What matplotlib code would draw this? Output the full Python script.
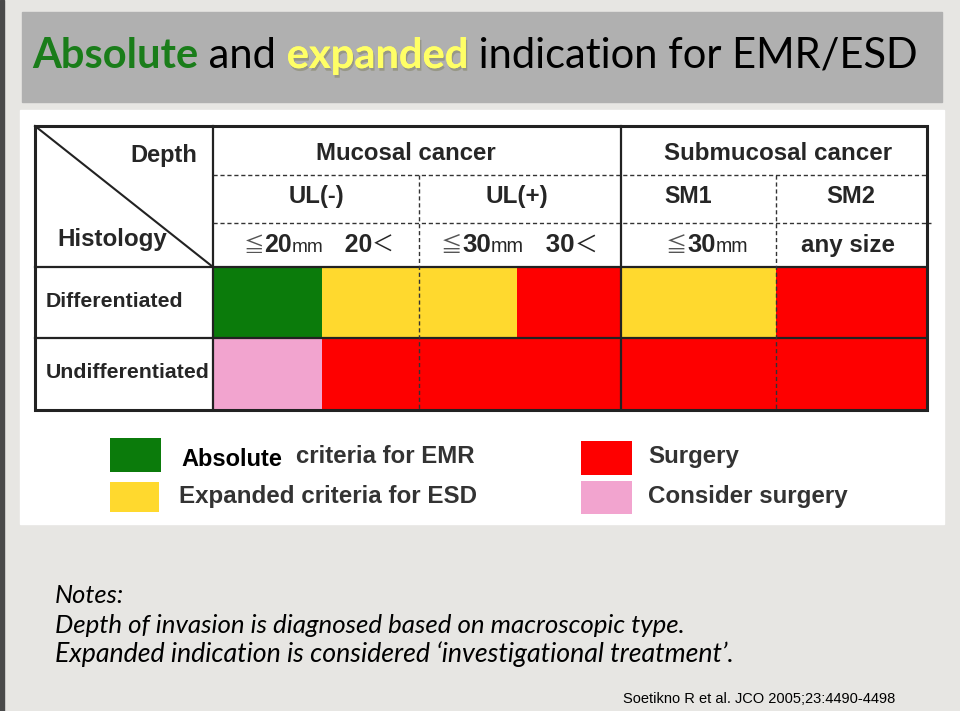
import matplotlib
matplotlib.use('Agg')
import matplotlib.pyplot as plt
import matplotlib.patheffects as pe
from matplotlib.patches import Rectangle

# ---- content -------------------------------------------------------------
depth_groups = ['Mucosal cancer', 'Submucosal cancer']
ulcer_groups = ['UL(-)', 'UL(+)', 'SM1', 'SM2']
histology = ['Differentiated', 'Undifferentiated']
# one entry per size column: ≦20, 20<, ≦30, 30<, SM1 ≦30, SM2 any size
criteria = [
    ['Absolute', 'Expanded', 'Expanded', 'Surgery', 'Expanded', 'Surgery'],
    ['Consider surgery', 'Surgery', 'Surgery', 'Surgery', 'Surgery', 'Surgery'],
]
legend_labels = ['Absolute', 'Expanded', 'Surgery', 'Consider surgery']
notes = ['Notes:',
         'Depth of invasion is diagnosed based on macroscopic type.',
         'Expanded indication is considered \u2018investigational treatment\u2019.']
citation = 'Soetikno R et al. JCO 2005;23:4490-4498'

colors = {'Absolute': '#0b7b0b', 'Expanded': '#ffd92e',
          'Surgery': '#fe0000', 'Consider surgery': '#f2a4cf'}

# ---- layout (pixel coords) ----------------------------------------------
col_edges = [213, 322, 419, 517, 621, 776, 927]
row_edges = [267, 338, 410]
tbl_left, tbl_top = 35, 126
INK = '#262626'
SANS = ['Liberation Sans', 'Noto Sans CJK JP', 'DejaVu Sans']
CJK = ['Noto Sans CJK JP', 'DejaVu Sans']

fig = plt.figure(figsize=(9.6, 7.11), dpi=100)
fig.patch.set_facecolor('#e7e6e3')
ax = fig.add_axes([0, 0, 1, 1])
ax.set_xlim(0, 960)
ax.set_ylim(711, 0)
ax.axis('off')
renderer = fig.canvas.get_renderer()


def run(pieces, x, y, ha='left', width=None):
    """Draw text pieces side by side on a baseline, optionally fit to width."""
    texts = [ax.text(0, y, s, va='baseline', **kw) for s, kw in pieces]

    def widths():
        return [t.get_window_extent(renderer).width for t in texts]

    w = widths()
    if width:
        k = width / sum(w)
        for t in texts:
            t.set_fontsize(t.get_fontsize() * k)
        w = widths()
    total = sum(w)
    x0 = {'left': x, 'center': x - total / 2, 'right': x - total}[ha]
    for t, wi in zip(texts, w):
        t.set_x(x0)
        x0 += wi
    return texts


def bold(size=17, color=INK):
    return dict(family=SANS, fontweight='bold', fontsize=size, color=color)


# left dark strip, title bar, white panel
ax.add_patch(Rectangle((0, 0), 4, 711, color='#4a4a4a', zorder=0))
ax.add_patch(Rectangle((22, 12), 920, 90, color='#b0b0b0', zorder=1))
ax.add_patch(Rectangle((20, 110), 924, 414, color='white', zorder=1))

# title
tfont = ['Lato', 'DejaVu Sans']
shadow = [pe.withSimplePatchShadow(offset=(1, -2), shadow_rgbFace='#808060', alpha=0.5), pe.Normal()]
run([('Absolute', dict(family=tfont, fontweight='bold', fontsize=28, color='#1a7d1a')),
     (' and ', dict(family=tfont, fontsize=28, color='black')),
     ('expanded', dict(family=tfont, fontweight='bold', fontsize=28, color='#ffff66',
                       path_effects=shadow)),
     (' indication for EMR/ESD', dict(family=tfont, fontsize=28, color='black'))],
    32, 68, width=886)

# colored cells
for r, row in enumerate(criteria):
    for c, cat in enumerate(row):
        ax.add_patch(Rectangle((col_edges[c], row_edges[r]),
                               col_edges[c + 1] - col_edges[c],
                               row_edges[r + 1] - row_edges[r],
                               color=colors[cat], lw=0, zorder=2))

# grid lines
ln = dict(color='#222222', zorder=3)
dash = dict(color='#333333', lw=1, ls=(0, (3, 2)), zorder=3)
ax.add_patch(Rectangle((tbl_left, tbl_top), col_edges[-1] - tbl_left,
                       row_edges[-1] - tbl_top, fill=False, ec='#222222', lw=2.2, zorder=4))
ax.plot([tbl_left, col_edges[0]], [tbl_top, row_edges[0]], lw=1.5, **ln)
for x in (col_edges[0], col_edges[4]):
    ax.plot([x, x], [tbl_top, row_edges[-1]], lw=1.6, **ln)
for y in row_edges[:2]:
    ax.plot([tbl_left, col_edges[-1]], [y, y], lw=1.6, **ln)
for x in (col_edges[2], col_edges[5]):
    ax.plot([x, x], [175, row_edges[-1]], **dash)
ax.plot([col_edges[0], col_edges[-1]], [175, 175], **dash)
ax.plot([col_edges[0], 931], [223, 223], **dash)

# header text
run([('Depth', bold())], 197, 162, ha='right', width=67)
run([('Histology', bold())], 57, 246, width=110)
run([(depth_groups[0], bold())], 406, 160, ha='center', width=181)
run([(depth_groups[1], bold())], 778, 160, ha='center', width=229)
ul_x = [317, 517, 688, 851]
ul_w = [56, 63, 48, 49]
for lab, x, w in zip(ulcer_groups, ul_x, ul_w):
    run([(lab, bold())], x, 203, ha='center', width=w)


def size_cell(num, x, width, tail=True):
    pieces = [('\u2266', dict(family=CJK, fontsize=14, color='#555555')),
              (num, bold()),
              ('mm', dict(family=SANS, fontsize=13, color=INK))]
    if tail:
        pieces += [('   ' + num, bold()),
                   ('\uff1c', dict(family=CJK, fontsize=15, color=INK))]
    run(pieces, x, 252, ha='center', width=width)


size_cell('20', 319, 151)
size_cell('30', 519, 157)
size_cell('30', 707, 82, tail=False)
run([('any size', bold())], 848, 252, ha='center', width=94)

for lab, y, w in zip(histology, [307, 378], [138, 164]):
    run([(lab, bold(15, '#262626'))], 46, y, width=w)

# legend
sw = [(110, 438, 51, 34), (110, 482, 49, 30), (581, 441, 51, 34), (581, 481, 51, 33)]
for lab, (x, y, w, h) in zip(legend_labels, sw):
    ax.add_patch(Rectangle((x, y), w, h, color=colors[lab], lw=0, zorder=2))
run([('Absolute', bold(16, 'black'))], 181, 466, width=101)
run([('criteria for EMR', bold(17, '#333333'))], 296, 463, width=179)
run([('Expanded criteria for ESD', bold(17, '#333333'))], 179, 503, width=298)
run([('Surgery', bold(17, '#333333'))], 648, 463, width=91)
run([('Consider surgery', bold(17, '#333333'))], 648, 503, width=200)

# notes
nfont = dict(family=['Lato', 'DejaVu Sans'], style='italic', fontsize=16, color='black')
for line, y, w in zip(notes, [603, 633, 662], [69, 631, 681]):
    run([(line, nfont)], 55, y, width=w)

run([(citation, dict(family=SANS, fontsize=10, color='black'))], 623, 703, width=272)

fig.savefig('out.png', dpi=100, facecolor=fig.get_facecolor())
